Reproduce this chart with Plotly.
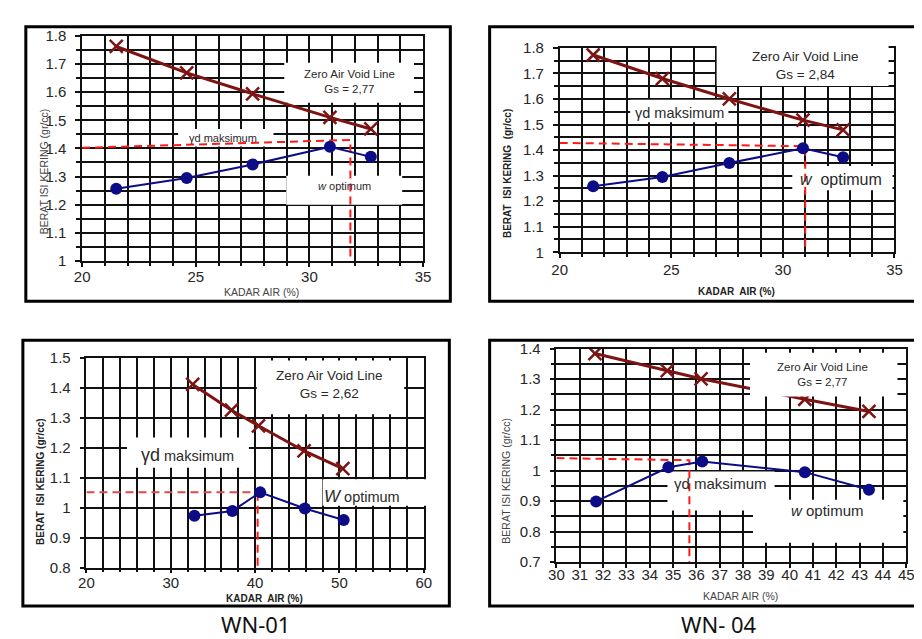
import plotly.graph_objects as go

W, H = 922, 639

# ---------------- data ----------------
# top-left panel (Gs = 2,77)
tl_w = [21.5, 24.6, 27.5, 30.9, 32.7]
tl_gd = [1.257, 1.295, 1.343, 1.406, 1.370]
tl_zav_w = [21.5, 24.6, 27.5, 30.9, 32.7]
tl_zav_gd = [1.762, 1.668, 1.594, 1.510, 1.469]
tl_guide_w = [20.0, 31.8, 31.8]
tl_guide_gd = [1.402, 1.430, 1.0]
tl_xticks = [20, 25, 30, 35]
tl_yticks = [1.0, 1.1, 1.2, 1.3, 1.4, 1.5, 1.6, 1.7, 1.8]
tl_gs = "2,77"

# top-right panel (Gs = 2,84)
tr_w = [21.5, 24.6, 27.6, 30.9, 32.7]
tr_gd = [1.258, 1.295, 1.349, 1.407, 1.372]
tr_zav_w = [21.5, 24.6, 27.6, 30.9, 32.7]
tr_zav_gd = [1.772, 1.680, 1.600, 1.517, 1.479]
tr_guide_w = [20.0, 31.0, 31.0]
tr_guide_gd = [1.428, 1.415, 1.0]
tr_xticks = [20, 25, 30, 35]
tr_yticks = [1.0, 1.1, 1.2, 1.3, 1.4, 1.5, 1.6, 1.7, 1.8]
tr_gs = "2,84"

# bottom-left panel WN-01 (Gs = 2,62)
bl_w = [32.8, 37.3, 40.6, 45.9, 50.5]
bl_gd = [0.973, 0.989, 1.051, 0.997, 0.959]
bl_zav_w = [32.6, 37.2, 40.4, 45.8, 50.4]
bl_zav_gd = [1.411, 1.325, 1.273, 1.189, 1.130]
bl_guide_h_w = [20.0, 40.5]
bl_guide_h_gd = [1.051, 1.051]
bl_guide_v_w = [40.3, 40.3]
bl_guide_v_gd = [1.05, 0.8]
bl_xticks = [20, 30, 40, 50, 60]
bl_yticks = [0.8, 0.9, 1.0, 1.1, 1.2, 1.3, 1.4, 1.5]
bl_gs = "2,62"
bl_name = "WN-01"

# bottom-right panel WN- 04 (Gs = 2,77)
br_w = [31.7, 34.8, 36.25, 40.65, 43.4]
br_gd = [0.899, 1.011, 1.030, 0.995, 0.937]
br_zav_w = [31.65, 34.75, 36.2, 40.65, 43.4]
br_zav_gd = [1.384, 1.328, 1.301, 1.234, 1.194]
br_guide_w = [30.0, 35.7, 35.7]
br_guide_gd = [1.041, 1.034, 0.7]
br_xticks = list(range(30, 46))
br_yticks = [0.7, 0.8, 0.9, 1.0, 1.1, 1.2, 1.3, 1.4]
br_gs = "2,77"
br_name = "WN- 04"

# ---------------- layout geometry (pixels) ----------------
P = {
    1: dict(l=67.3, r=414.3, t=19.3, b=250.7, xr=[20, 35], yr=[1.0, 1.8], xso=-3),
    2: dict(l=553.3, r=894.0, t=31.7, b=241.7, xr=[20, 35], yr=[1.0, 1.8], xso=-1),
    3: dict(l=71.7, r=415.0, t=350.0, b=565.7, xr=[20, 60], yr=[0.8, 1.5], xso=-3),
    4: dict(l=550.0, r=906.0, t=340.7, b=560.0, xr=[30, 45], yr=[0.7, 1.4], xso=-6),
}

BLUE = "#0c0c86"
MAROON = "#7d1414"
RED = "#ff1a1a"
GRID = "#111111"
TXT = "#2a2a2a"
TICKFONT = dict(family="Liberation Sans, Arial, sans-serif", size=15, color="#262626")


def px(x):
    return x / W


def py(y):
    return 1 - y / H


def dx(k, x):
    g = P[k]
    return g["xr"][0] + (x - g["l"]) / (g["r"] - g["l"]) * (g["xr"][1] - g["xr"][0])


def dy(k, y):
    g = P[k]
    return g["yr"][1] - (y - g["t"]) / (g["b"] - g["t"]) * (g["yr"][1] - g["yr"][0])


fig = go.Figure()


def add_panel(k, w, gd, zw, zgd, guides):
    xa = "x" if k == 1 else f"x{k}"
    ya = "y" if k == 1 else f"y{k}"
    for gx, gy, col in guides:
        fig.add_trace(go.Scatter(x=gx, y=gy, mode="lines", xaxis=xa, yaxis=ya,
                                 line=dict(color=col, width=2, dash="8px,5px"),
                                 showlegend=False, hoverinfo="skip"))
    fig.add_trace(go.Scatter(x=zw, y=zgd, mode="lines+markers", xaxis=xa, yaxis=ya,
                             line=dict(color=MAROON, width=3),
                             marker=dict(symbol="x-thin", size=13,
                                         line=dict(color=MAROON, width=2.5)),
                             showlegend=False))
    fig.add_trace(go.Scatter(x=w, y=gd, mode="lines+markers", xaxis=xa, yaxis=ya,
                             line=dict(color=BLUE, width=2),
                             marker=dict(symbol="circle", size=12, color=BLUE),
                             showlegend=False))


add_panel(1, tl_w, tl_gd, tl_zav_w, tl_zav_gd, [(tl_guide_w, tl_guide_gd, RED)])
add_panel(2, tr_w, tr_gd, tr_zav_w, tr_zav_gd, [(tr_guide_w, tr_guide_gd, RED)])
add_panel(3, bl_w, bl_gd, bl_zav_w, bl_zav_gd,
          [(bl_guide_h_w, bl_guide_h_gd, "#dc4a4a"), (bl_guide_v_w, bl_guide_v_gd, RED)])
add_panel(4, br_w, br_gd, br_zav_w, br_zav_gd, [(br_guide_w, br_guide_gd, RED)])


def axes(k, xticks, yticks, xminor, yminor):
    g = P[k]
    xa = dict(domain=[px(g["l"]), px(g["r"])], range=g["xr"], tickmode="array",
              tickvals=xticks, ticktext=[str(v) for v in xticks],
              showgrid=True, gridcolor=GRID, gridwidth=1.5, zeroline=False,
              showline=True, mirror=True, linecolor=GRID, linewidth=1.5,
              ticks="outside", ticklen=4, tickcolor=GRID, tickwidth=1.5,
              tickfont=TICKFONT, ticklabelstandoff=g["xso"], fixedrange=True)
    ya = dict(domain=[py(g["b"]), py(g["t"])], range=g["yr"], tickmode="array",
              tickvals=yticks, ticktext=[("%g" % v) for v in yticks],
              showgrid=True, gridcolor=GRID, gridwidth=1.5, zeroline=False,
              showline=True, mirror=True, linecolor=GRID, linewidth=1.5,
              ticks="outside", ticklen=5, tickcolor=GRID, tickwidth=1.5,
              tickfont=TICKFONT, ticklabelstandoff=6, fixedrange=True)
    if xminor:
        xa["minor"] = dict(dtick=xminor, tick0=g["xr"][0], showgrid=True, gridcolor=GRID,
                           gridwidth=1.5, ticks="outside", ticklen=3, tickcolor=GRID)
    if yminor:
        ya["minor"] = dict(dtick=yminor, tick0=g["yr"][0], showgrid=True, gridcolor=GRID,
                           gridwidth=1.5, ticks="outside", ticklen=4, tickcolor=GRID)
    sx = "xaxis" if k == 1 else f"xaxis{k}"
    sy = "yaxis" if k == 1 else f"yaxis{k}"
    ax_x = "x" if k == 1 else f"x{k}"
    ax_y = "y" if k == 1 else f"y{k}"
    xa["anchor"] = ax_y
    ya["anchor"] = ax_x
    return {sx: xa, sy: ya}


lay = {}
lay.update(axes(1, tl_xticks, tl_yticks, 1, 0.05))
lay.update(axes(2, tr_xticks, tr_yticks, 1, 0.05))
lay.update(axes(3, bl_xticks, bl_yticks, 2, None))
lay.update(axes(4, br_xticks, br_yticks, None, 0.05))

shapes = []


def box_between(k, x0, y0, x1, y1):
    xa = "x" if k == 1 else f"x{k}"
    ya = "y" if k == 1 else f"y{k}"
    shapes.append(dict(type="rect", xref=xa, yref=ya, layer="between",
                       x0=dx(k, x0), x1=dx(k, x1), y0=dy(k, y1), y1=dy(k, y0),
                       fillcolor="white", line=dict(width=0)))


def box_above(x0, y0, x1, y1):
    shapes.append(dict(type="rect", xref="paper", yref="paper", layer="above",
                       x0=px(x0), x1=px(x1), y0=py(y1), y1=py(y0),
                       fillcolor="white", line=dict(width=0)))


# white label boxes
box_between(1, 273, 47, 405, 88)
box_between(1, 165, 115, 262, 133)
box_between(1, 275, 163, 393, 193)

box_above(713, 27, 888, 71)
box_between(2, 625, 85, 725, 108)
box_between(2, 790, 153, 892, 178)

box_between(3, 245, 353, 395, 408)
box_between(3, 113, 432, 237, 463)
box_above(312, 475, 418, 502)

box_above(747, 345, 897, 390)
box_between(4, 663, 467, 772, 507)
box_between(4, 750, 496, 903, 540)

# outer panel frames
for (x0, y0, x1, y1) in [(10, 10, 442, 292), (482, 10, 935, 292),
                         (7, 332, 441, 605), (482, 332, 935, 605)]:
    shapes.append(dict(type="rect", xref="paper", yref="paper", layer="above",
                       x0=px(x0), x1=px(x1), y0=py(y1), y1=py(y0),
                       fillcolor="rgba(0,0,0,0)", line=dict(color="black", width=3)))

ann = []


def note(x, y, text, size, color=TXT, angle=0, family="Liberation Sans, Arial, sans-serif"):
    ann.append(dict(x=px(x), y=py(y), xref="paper", yref="paper", text=text,
                    showarrow=False, xanchor="center", yanchor="middle",
                    textangle=angle, font=dict(size=size, color=color, family=family)))


# box texts
note(339, 66.5, f"Zero Air Void Line<br>Gs = {tl_gs}", 11.5)
note(211, 124, "γd maksimum", 11)
note(334, 174, "<i>w</i> optimum", 11)

note(803, 49.5, f"Zero Air Void Line<br>Gs = {tr_gs}", 13.5)
note(675, 99, "γd maksimum", 14.5)
note(840, 167, "<i>w</i>  optimum", 16)

note(319, 377.5, f"Zero Air Void Line<br>Gs = {bl_gs}", 13.5)
note(175, 450, "<span style='font-size:18px'>γd</span> maksimum", 14.5)
note(352, 493, "<span style='font-size:17px'><i>W</i></span> optimum", 14.5)

note(821, 367, f"Zero Air Void Line<br>Gs = {br_gs}", 11.5)
note(717, 479, "γd maksimum", 15)
note(826, 507, "<i>w</i> optimum", 15)

# axis titles
note(28, 159, "BERAT ISI KERING (gr/cc)", 10.5, color="#444", angle=-90)
note(250, 283, "KADAR AIR (%)", 10.5, color="#444")
note(500, 161, "<b>BERAT  ISI KERING  (gr/cc)</b>", 10, color="#222", angle=-90)
note(733, 282, "<b>KADAR  AIR (%)</b>", 10, color="#222")
note(25, 477, "<b>BERAT  ISI KERING (gr/cc)</b>", 10, color="#222", angle=-90)
note(253, 597, "<b>KADAR  AIR (%)</b>", 10, color="#222")
note(499, 476, "BERAT ISI KERING (gr/cc)", 10.5, color="#444", angle=-90)
note(737, 595, "KADAR AIR (%)", 10.5, color="#444")

# sample names
note(244, 624, bl_name, 22, color="#111", family="Noto Sans, sans-serif")
note(715, 624, br_name, 22, color="#111", family="Noto Sans, sans-serif")

fig.update_layout(width=W, height=H, autosize=False,
                  margin=dict(l=0, r=0, t=0, b=0, pad=0),
                  paper_bgcolor="white", plot_bgcolor="white",
                  shapes=shapes, annotations=ann, showlegend=False, **lay)

fig.write_html("out.html", config={"displayModeBar": False})
